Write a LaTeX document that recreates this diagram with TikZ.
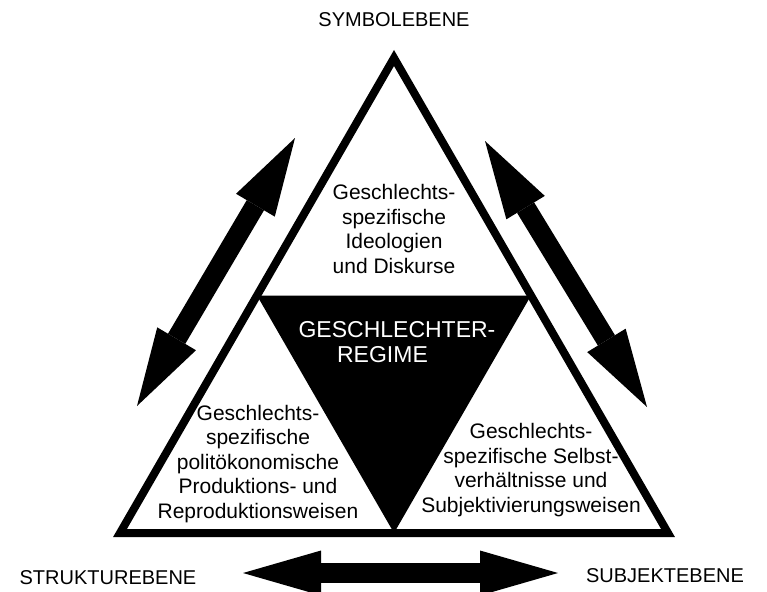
\documentclass[tikz,border=0pt]{standalone}
\usepackage{fontspec}
\setmainfont{Liberation Sans}
\usepackage{tikz}
\usetikzlibrary{arrows.meta,calc}

\begin{document}
\begin{tikzpicture}[x=1pt,y=-1pt,line join=miter,
                    bigarrow/.style={line width=20pt,
                      {Triangle[length=78pt,width=45pt,line width=0pt]}-{Triangle[length=78pt,width=45pt,line width=0pt]}}]
\tikzstyle{every node}=[inner sep=0pt,font=\fontsize{21}{24.5}\selectfont]
\tikzstyle{level}=[font=\fontsize{20}{24}\selectfont]
\useasboundingbox (0,0) rectangle (767,591);

\coordinate (top) at (394,58);
\coordinate (bl) at (120,533);
\coordinate (br) at (668,533);
\coordinate (ml) at ($(top)!0.5!(bl)$);
\coordinate (mr) at ($(top)!0.5!(br)$);
\coordinate (mb) at ($(bl)!0.5!(br)$);

% triangle and regime
\draw [line width=8pt] (top) -- (bl) -- (br) -- cycle;
\fill (ml) -- (mr) -- (mb) -- cycle;

\node [level] (symbol) at (394,20) {SYMBOLEBENE};
\node [level] (struktur) at (108,578) {STRUKTUREBENE};
\node [level] (subjekt) at (665,576) {SUBJEKTEBENE};

\node [align=center] (ideo) at (394,229) {Geschlechts-\\spezifische\\Ideologien\\und Diskurse};
\node [align=center] (polit) at (258,464) {Geschlechts-\\spezifische\\politökonomische\\Produktions- und\\Reproduktionsweisen};
\node [align=center] (selbst) at (531,470) {Geschlechts-\\spezifische Selbst-\\verhältnisse und\\Subjektivierungsweisen};
\node [align=center,text=white,font=\fontsize{23}{25}\selectfont] (regime) at (397,342) {GESCHLECHTER-\\REGIME\hspace*{29pt}};

% arrows between the levels
\coordinate (leftA) at (137,406);
\coordinate (leftB) at (295,138);
\coordinate (rightA) at (485,141);
\coordinate (rightB) at (647,407);
\coordinate (botA) at (243,573);
\coordinate (botB) at (558,573);
\draw [bigarrow] (leftA) -- (leftB);
\draw [bigarrow] (rightA) -- (rightB);
\draw [bigarrow] (botA) -- (botB);

\end{tikzpicture}
\end{document}
